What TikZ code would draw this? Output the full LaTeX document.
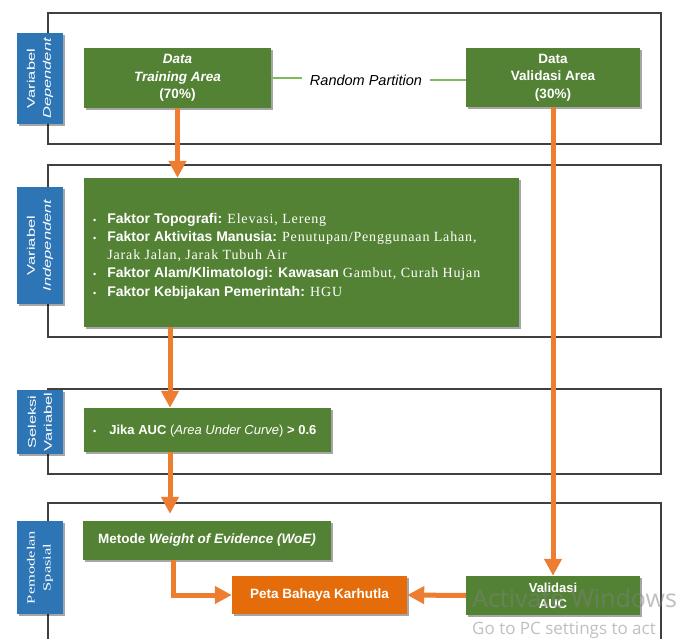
\documentclass[tikz,border=0pt]{standalone}
\usepackage{fontspec}
\usepackage{graphicx}
\setmainfont{Liberation Sans}
\newfontfamily\srf[LetterSpace=6]{Liberation Serif}
\newfontfamily\lblserif{Liberation Serif}
\newfontfamily\wmfont{Open Sans}
\usetikzlibrary{shadows,arrows.meta}
\definecolor{boxgreen}{HTML}{548235}
\definecolor{lblblue}{HTML}{2E75B6}
\definecolor{arrorange}{HTML}{ED7D31}
\definecolor{petaorange}{HTML}{E46C0A}
\definecolor{framegray}{HTML}{404040}
\definecolor{rpgreen}{HTML}{7DBB5A}
\tikzset{
  frame/.style={draw=framegray, line width=1.2pt},
  shad/.style={drop shadow={shadow xshift=2pt, shadow yshift=-2pt, opacity=0.35, fill=black}},
  gbox/.style={fill=boxgreen, text=white, inner sep=0pt, align=center, shad,
     font=\fontsize{13.5}{17.5}\selectfont\bfseries},
  obox/.style={fill=petaorange, text=white, inner sep=0pt, align=center, shad,
     font=\fontsize{13.5}{17.5}\selectfont\bfseries},
  lbl/.style={fill=lblblue, text=white, inner sep=0pt, align=center, rotate=90, shad,
     minimum height=46pt, font=\fontsize{11}{16}\selectfont},
  oarrow/.style={draw=arrorange, line width=5pt, -{Triangle[width=17pt,length=17pt]}},
  rpline/.style={draw=rpgreen, line width=1.6pt},
}
\newcommand{\sx}[1]{\scalebox{1.5}[1]{#1}}
\begin{document}
\begin{tikzpicture}[x=1pt,y=-1pt]
\useasboundingbox (0,0) rectangle (686,639);
% section frames
\draw[frame] (48,13) rectangle (661,144);
\draw[frame] (48,165) rectangle (661,337);
\draw[frame] (48,389) rectangle (661,474);
\draw[frame] (48,650) -- (48,503) -- (661,503) -- (661,650);
% labels
\node[lbl, minimum width=91pt] (l1) at (40,78.5) {\sx{Variabel}\\\sx{\itshape Dependent}};
\node[lbl, minimum width=117pt] (l2) at (40,245.5) {\sx{Variabel}\\\sx{\itshape Independent}};
\node[lbl, minimum width=64pt] (l3) at (40,422) {\sx{Seleksi}\\\sx{Variabel}};
\node[lbl, minimum width=93pt, font=\fontsize{11}{16}\lblserif] (l4) at (40,567.5) {\sx{Pemodelan}\\\sx{Spasial}};
% boxes
\node[gbox, minimum width=187pt, minimum height=60pt] (train) at (177.5,78)
  {\itshape Data\\\itshape Training Area\\(70\%)};
\node[gbox, minimum width=174pt, minimum height=59pt] (val) at (553,77.5)
  {Data\\Validasi Area\\(30\%)};
\node[font=\fontsize{14.5}{17}\selectfont\itshape, inner sep=8pt] (rp) at (366,80) {Random Partition};
\draw[rpline] (train.east) -- (train.east -| rp.west);
\draw[rpline] (rp.east) -- (rp.east -| val.west);
\node[fill=boxgreen, shad, minimum width=435pt, minimum height=149pt, inner sep=0pt] (big) at (301.5,252.5) {};
\node[anchor=west, text=white, inner sep=0pt, align=left, font=\fontsize{14}{18}\selectfont] (facts) at (93,256)
 {\begin{tabular}{@{}l@{\hspace{11pt}}l@{}}
 {\fontsize{9}{9}\selectfont\textbullet} & \textbf{Faktor Topografi:} {\srf Elevasi, Lereng}\\
 {\fontsize{9}{9}\selectfont\textbullet} & \textbf{Faktor Aktivitas Manusia:} {\srf Penutupan/Penggunaan Lahan,}\\
  & {\srf Jarak Jalan, Jarak Tubuh Air}\\
 {\fontsize{9}{9}\selectfont\textbullet} & \textbf{Faktor Alam/Klimatologi: Kawasan} {\srf Gambut, Curah Hujan}\\[1pt]
 {\fontsize{9}{9}\selectfont\textbullet} & \textbf{Faktor Kebijakan Pemerintah:} {\srf HGU}
 \end{tabular}};
\node[fill=boxgreen, shad, minimum width=247pt, minimum height=44pt, inner sep=0pt] (jika) at (207.5,430) {};
\node[anchor=west, text=white, inner sep=0pt, font=\fontsize{13}{16}\selectfont] (jikat) at (93,431)
  {{\fontsize{9}{9}\selectfont\textbullet}\hspace{13pt}\textbf{Jika AUC} (\textit{Area Under Curve}) \textbf{> 0.6}};
\node[gbox, minimum width=248pt, minimum height=39pt] (woe) at (207,540.5)
  {Metode \textit{Weight of Evidence (WoE)}};
\node[obox, minimum width=175pt, minimum height=38pt] (peta) at (319.5,595) {Peta Bahaya Karhutla};
\node[gbox, minimum width=174pt, minimum height=39pt, font=\fontsize{13}{16}\selectfont\bfseries] (auc) at (553,595.5) {Validasi\\AUC};
% arrows
\coordinate (c2) at (170,0);
\coordinate (c3) at (173,0);
\draw[oarrow] (train.south) -- (train.south |- big.north);
\draw[oarrow] (c2 |- big.south) -- (c2 |- jika.north);
\draw[oarrow, shorten >=7pt] (c2 |- jika.south) -- (c2 |- woe.north);
\draw[oarrow] (c3 |- woe.south) |- (peta.west);
\draw[oarrow] (val.south) -- (auc.north);
\draw[oarrow] (auc.west) -- (peta.east);
% watermark
\node[anchor=west, text=gray, opacity=0.5, inner sep=0pt, font=\fontsize{25}{25}\wmfont] (wm1) at (472,598) {Activate Windows};
\node[anchor=west, text=gray, opacity=0.5, inner sep=0pt, font=\fontsize{17}{17}\wmfont] (wm2) at (472,630) {Go to PC settings to act};
\end{tikzpicture}
\end{document}
